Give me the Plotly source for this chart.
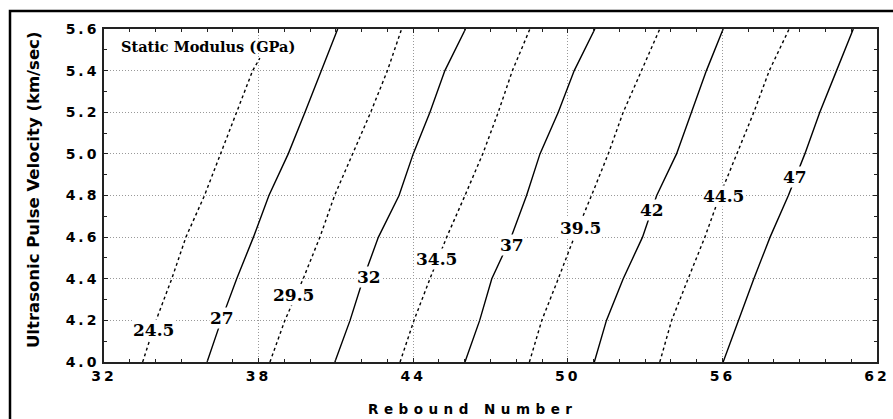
import plotly.graph_objects as go

# Velocity levels (km/sec) at which each contour was read
velocity = [4.0, 4.2, 4.4, 4.6, 4.8, 5.0, 5.2, 5.4, 5.6]
velocity_245 = [4.0, 4.2, 4.4, 4.6, 4.8, 5.0, 5.2, 5.4, 5.46]

# Rebound number along each static-modulus contour (GPa)
levels = ["24.5", "27", "29.5", "32", "34.5", "37", "39.5", "42", "44.5", "47"]
rebound_245 = [33.50, 34.02, 34.63, 35.18, 35.90, 36.53, 37.15, 37.77, 38.05]
rebound_27 = [36.00, 36.55, 37.15, 37.80, 38.40, 39.15, 39.80, 40.45, 41.07]
rebound_295 = [38.44, 39.02, 39.73, 40.38, 40.95, 41.65, 42.35, 43.00, 43.55]
rebound_32 = [40.96, 41.55, 42.06, 42.65, 43.45, 44.00, 44.65, 45.23, 46.03]
rebound_345 = [43.49, 44.03, 44.65, 45.30, 46.01, 46.70, 47.30, 47.85, 48.53]
rebound_37 = [46.01, 46.58, 47.05, 47.80, 48.40, 48.92, 49.63, 50.25, 51.05]
rebound_395 = [48.51, 48.99, 49.63, 50.25, 50.92, 51.57, 52.15, 52.86, 53.57]
rebound_42 = [51.03, 51.50, 52.15, 52.90, 53.45, 54.22, 54.80, 55.38, 56.03]
rebound_445 = [53.57, 54.03, 54.67, 55.32, 55.90, 56.55, 57.22, 57.82, 58.59]
rebound_47 = [56.03, 56.61, 57.22, 57.85, 58.56, 59.20, 59.78, 60.43, 61.08]

# Contour label positions
label_x = [33.94, 36.57, 39.37, 42.28, 44.91, 47.85, 50.49, 53.28, 56.03, 58.81]
label_y = [4.153, 4.212, 4.32, 4.41, 4.497, 4.56, 4.642, 4.73, 4.80, 4.89]

x_ticks = [32, 38, 44, 50, 56, 62]
y_ticks = [4.0, 4.2, 4.4, 4.6, 4.8, 5.0, 5.2, 5.4, 5.6]

series = [
    (rebound_245, velocity_245, True),
    (rebound_27, velocity, False),
    (rebound_295, velocity, True),
    (rebound_32, velocity, False),
    (rebound_345, velocity, True),
    (rebound_37, velocity, False),
    (rebound_395, velocity, True),
    (rebound_42, velocity, False),
    (rebound_445, velocity, True),
    (rebound_47, velocity, False),
]

fig = go.Figure()
for (xs, ys, dashed), name in zip(series, levels):
    fig.add_trace(go.Scatter(
        x=xs, y=ys, mode="lines", name=name, showlegend=False,
        line=dict(color="black", width=1.4, dash="3px,3px" if dashed else "solid"),
    ))

for lx, ly, t in zip(label_x, label_y, levels):
    fig.add_annotation(
        x=lx, y=ly, text=t, showarrow=False, bgcolor="white", borderpad=0,
        font=dict(family="DejaVu Serif", size=17, color="black", weight=600),
    )

fig.add_annotation(
    xref="paper", yref="paper", x=0.0194, y=0.946, xanchor="left", yanchor="middle",
    text="<b>Static Modulus (GPa)</b>", showarrow=False,
    font=dict(family="DejaVu Serif", size=14.5, color="black"),
)

# Axis titles
fig.add_annotation(
    xref="paper", yref="paper", x=0.477, y=-0.141, xanchor="center", yanchor="middle",
    text='<b><span style="letter-spacing:5.5px">Rebound Number</span></b>', showarrow=False,
    font=dict(family="DejaVu Sans", size=13.5, color="black"),
)
fig.add_annotation(
    xref="paper", yref="paper", x=-0.0918, y=0.5165, xanchor="center", yanchor="middle",
    text="<b>Ultrasonic Pulse Velocity (km/sec)</b>", showarrow=False, textangle=-90,
    font=dict(family="DejaVu Sans", size=16.5, color="black"),
)

# Outer frame
fig.add_shape(type="rect", xref="paper", yref="paper",
              x0=-0.1216, x1=1.06, y0=-0.3, y1=1.054,
              line=dict(color="black", width=2.5))

def spaced(s):
    return '<b><span style="letter-spacing:3px">' + s + '</span></b>'

axis_common = dict(
    showline=True, linecolor="#222", linewidth=1.5, mirror="ticks",
    ticks="inside", ticklen=4, tickcolor="#222",
    showgrid=True, gridcolor="#999999", griddash="1px,2px", gridwidth=1,
    zeroline=False, automargin=False,
    tickfont=dict(family="DejaVu Sans", size=14, color="black"),
)

fig.update_xaxes(
    range=[32, 62], tickvals=x_ticks, ticktext=[spaced(str(v)) for v in x_ticks],
    minor=dict(dtick=1, tick0=32, ticks="inside", ticklen=3, tickcolor="#222", showgrid=False),
    **axis_common,
)
fig.update_yaxes(
    range=[4.0, 5.6], tickvals=y_ticks, ticktext=[spaced(f"{v:.1f}") for v in y_ticks],
    minor=dict(dtick=0.1, tick0=4.0, ticks="inside", ticklen=3, tickcolor="#222", showgrid=False),
    **axis_common,
)

fig.update_layout(
    width=893, height=419,
    margin=dict(l=104, r=16, t=29, b=57, autoexpand=False),
    paper_bgcolor="white", plot_bgcolor="white",
)

fig.write_html(
    "out.html",
    config={"displayModeBar": False},
    post_script="document.body.style.margin='0';document.documentElement.style.overflow='hidden';",
)
